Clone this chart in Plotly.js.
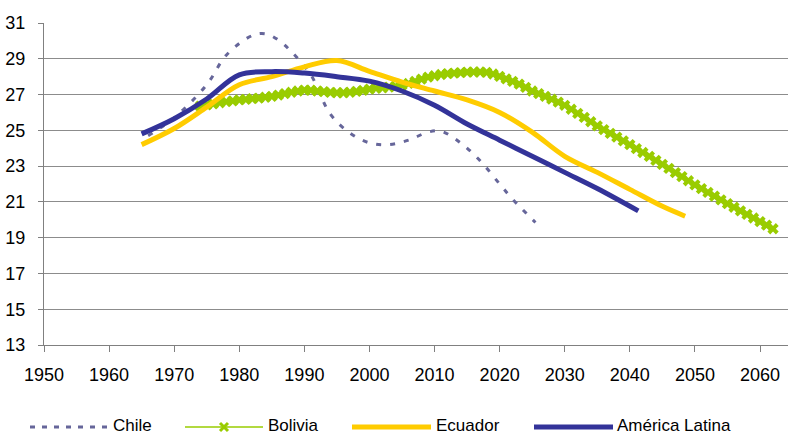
<!DOCTYPE html>
<html>
<head>
<meta charset="utf-8">
<script src="https://cdn.plot.ly/plotly-3.0.1.min.js"></script>
<style>
  html, body { margin: 0; padding: 0; background: #fff; }
  #chart { width: 788px; height: 437px; }
</style>
</head>
<body>
<div id="chart"></div>
<script>
  // Chile (smoothed, dashed)
  var chileYears = [1966, 1970, 1975, 1978, 1982, 1984, 1986, 1988, 1991, 1994, 1997, 2000, 2003, 2006, 2009, 2011, 2014, 2017, 2020, 2022, 2025.5];
  var chileVals  = [24.7, 25.7, 27.55, 29.2, 30.3, 30.4, 30.05, 29.4, 28.1, 25.9, 24.85, 24.3, 24.2, 24.45, 24.9, 24.95, 24.3, 23.3, 22.0, 21.15, 19.85];

  // Bolivia (one value per year, 1974-2062)
  var boliviaStart = 1974;
  var boliviaVals = [
    26.35, 26.42, 26.48, 26.54, 26.6, 26.65, 26.7, 26.73, 26.77, 26.8,
    26.85, 26.9, 26.97, 27.05, 27.13, 27.2, 27.25, 27.24, 27.2, 27.16,
    27.12, 27.1, 27.1, 27.13, 27.18, 27.23, 27.3, 27.35, 27.38, 27.42,
    27.46, 27.52, 27.62, 27.74, 27.86, 27.97, 28.05, 28.12, 28.17, 28.2,
    28.23, 28.25, 28.26, 28.26, 28.24, 28.15, 28.02, 27.88, 27.74, 27.58,
    27.4, 27.2, 27.05, 26.9, 26.74, 26.58, 26.4, 26.18, 25.95, 25.72,
    25.48, 25.25, 25.04, 24.83, 24.62, 24.41, 24.2, 23.98, 23.76, 23.54,
    23.32, 23.1, 22.87, 22.64, 22.41, 22.18, 21.95, 21.74, 21.53, 21.32,
    21.11, 20.9, 20.7, 20.5, 20.3, 20.1, 19.9, 19.7, 19.5
  ];
  var boliviaYears = [];
  for (var i = 0; i < boliviaVals.length; i++) {
    boliviaYears.push(boliviaStart + i);
  }

  // Ecuador
  var ecuadorYears = [1965, 1970, 1975, 1980, 1985, 1990, 1995, 2000, 2005, 2010, 2015, 2020, 2025, 2030, 2035, 2040, 2045, 2048.5];
  var ecuadorVals  = [24.2, 25.1, 26.3, 27.55, 28.0, 28.55, 28.9, 28.3, 27.7, 27.2, 26.7, 26.0, 24.9, 23.55, 22.65, 21.7, 20.75, 20.2];

  // America Latina
  var latamYears = [1965, 1970, 1975, 1980, 1985, 1990, 1995, 2000, 2005, 2010, 2015, 2020, 2025, 2030, 2035, 2041.3];
  var latamVals  = [24.8, 25.65, 26.75, 28.1, 28.28, 28.2, 28.0, 27.75, 27.2, 26.4, 25.35, 24.45, 23.55, 22.65, 21.75, 20.5];

  var seriesNames = ["Chile", "Bolivia", "Ecuador", "América Latina"];
  var colors = ["#66669a", "#99cc00", "#ffcc00", "#333399"];

  var font = "Liberation Sans, Arial, sans-serif";

  var traces = [{
    x: chileYears, y: chileVals, type: "scatter", mode: "lines", name: seriesNames[0],
    line: { color: colors[0], width: 3, dash: "5px,9px", shape: "spline", smoothing: 1 }
  }, {
    x: boliviaYears, y: boliviaVals, type: "scatter", mode: "lines+markers", name: seriesNames[1],
    line: { color: colors[1], width: 3, shape: "spline" },
    marker: { symbol: "x", size: 10, color: colors[1], line: { width: 0 } }
  }, {
    x: ecuadorYears, y: ecuadorVals, type: "scatter", mode: "lines", name: seriesNames[2],
    line: { color: colors[2], width: 5, shape: "spline", smoothing: 1 }
  }, {
    x: latamYears, y: latamVals, type: "scatter", mode: "lines", name: seriesNames[3],
    line: { color: colors[3], width: 5, shape: "spline", smoothing: 1 }
  }];

  // hand-made legend with long line samples, like the original
  var plotW = 744, plotH = 322, plotL = 44, plotB = 345;
  function px(x) { return (x - plotL) / plotW; }
  function py(y) { return (plotB - y) / plotH; }
  var legY = 425;
  var legItems = [
    { x0: 30, x1: 107, tx: 112, dash: "5px,7px", width: 3 },
    { x0: 185, x1: 263, tx: 267, dash: "solid", width: 1.5 },
    { x0: 352, x1: 431, tx: 435, dash: "solid", width: 5 },
    { x0: 534, x1: 613, tx: 616, dash: "solid", width: 5 }
  ];
  var shapes = [];
  var annotations = [];
  for (var k = 0; k < legItems.length; k++) {
    var it = legItems[k];
    shapes.push({
      type: "line", xref: "paper", yref: "paper",
      x0: px(it.x0), x1: px(it.x1), y0: py(legY + 2), y1: py(legY + 2),
      line: { color: colors[k], width: it.width, dash: it.dash }
    });
    annotations.push({
      xref: "paper", yref: "paper", x: px(it.tx), y: py(legY),
      xanchor: "left", yanchor: "middle", showarrow: false, borderpad: 0,
      text: seriesNames[k], font: { family: font, size: 17, color: "#000" }
    });
  }
  // x marker on the Bolivia sample
  var mx = 224, mh = 4, my = legY + 2;
  shapes.push({
    type: "path", xref: "paper", yref: "paper",
    path: "M" + px(mx - mh) + "," + py(my - mh) + " L" + px(mx + mh) + "," + py(my + mh) +
          " M" + px(mx - mh) + "," + py(my + mh) + " L" + px(mx + mh) + "," + py(my - mh),
    line: { color: colors[1], width: 3 }
  });

  var layout = {
    width: 788,
    height: 437,
    margin: { l: plotL, r: 0, t: 23, b: 437 - plotB },
    paper_bgcolor: "#fff",
    plot_bgcolor: "#fff",
    showlegend: false,
    font: { family: font, size: 18, color: "#000" },
    xaxis: {
      range: [1950, 2064.3],
      tick0: 1950, dtick: 10,
      showgrid: false, zeroline: false,
      showline: true, linecolor: "#808080", linewidth: 1,
      ticks: "outside", ticklen: 6, tickcolor: "#808080",
      ticklabelstandoff: 7,
      tickfont: { family: font, size: 18, color: "#000" }
    },
    yaxis: {
      range: [13, 31],
      tick0: 13, dtick: 2,
      showgrid: true, gridcolor: "#8c8c8c", gridwidth: 1,
      zeroline: false,
      showline: true, linecolor: "#808080", linewidth: 1,
      ticks: "outside", ticklen: 5, tickcolor: "#808080",
      ticklabelstandoff: 9,
      tickfont: { family: font, size: 18, color: "#000" }
    },
    shapes: shapes,
    annotations: annotations
  };

  Plotly.newPlot("chart", traces, layout, { staticPlot: true, displayModeBar: false });
</script>
</body>
</html>
